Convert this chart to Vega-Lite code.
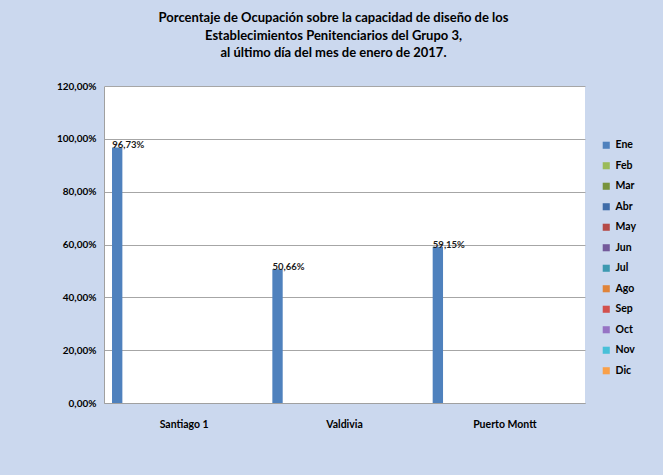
{
  "$schema": "https://vega.github.io/schema/vega-lite/v6.json",
  "autosize": "none",
  "width": 481,
  "height": 317,
  "padding": {"left": 104, "top": 86, "right": 78, "bottom": 72},
  "background": "#cbd8ee",
  "config": {
    "locale": {"number": {"decimal": ",", "thousands": ".", "grouping": [3], "currency": ["$", ""]}},
    "font": "Lato",
    "view": {"fill": "white", "stroke": null}
  },
  "title": {
    "text": ["Porcentaje de Ocupación  sobre la capacidad  de diseño de los", "Establecimientos Penitenciarios del Grupo 3,", "al último día del mes de  enero de 2017."],
    "fontSize": 13,
    "fontWeight": "bold",
    "color": "#000000",
    "lineHeight": 17.5,
    "anchor": "middle",
    "frame": "group",
    "dx": -11,
    "offset": 21
  },
  "data": {
    "values": [
      {"est": "Santiago 1", "mes": "Ene", "v": 0.9673},
      {"est": "Valdivia", "mes": "Ene", "v": 0.5066},
      {"est": "Puerto Montt", "mes": "Ene", "v": 0.5915}
    ]
  },
  "encoding": {
    "x": {
      "field": "est", "type": "nominal", "sort": ["Santiago 1", "Valdivia", "Puerto Montt"],
      "scale": {"paddingInner": 0.1, "paddingOuter": 0.05},
      "axis": {"title": null, "labelAngle": 0, "labelFontSize": 10.5, "labelFontWeight": "bold", "labelColor": "#000000", "labelPadding": 16, "ticks": false, "domainColor": "#a0a0a0"}
    },
    "xOffset": {
      "field": "mes", "type": "nominal",
      "scale": {"domain": ["Ene", "Feb", "Mar", "Abr", "May", "Jun", "Jul", "Ago", "Sep", "Oct", "Nov", "Dic"], "paddingInner": 0.15}
    },
    "y": {
      "field": "v", "type": "quantitative",
      "scale": {"domain": [0, 1.2], "nice": false},
      "axis": {"title": null, "format": ".2%", "values": [0, 0.2, 0.4, 0.6, 0.8, 1.0, 1.2], "labelFontSize": 10, "labelFontWeight": "bold", "labelColor": "#000000", "labelPadding": 8, "ticks": false, "gridColor": "#a6a6a6", "domainColor": "#a0a0a0"}
    }
  },
  "layer": [
    {
      "mark": {"type": "bar"},
      "encoding": {
        "color": {
          "field": "mes", "type": "nominal",
          "scale": {
            "domain": ["Ene", "Feb", "Mar", "Abr", "May", "Jun", "Jul", "Ago", "Sep", "Oct", "Nov", "Dic"],
            "range": ["#4f81bd", "#9bbb59", "#77933c", "#3f6ca8", "#b54a47", "#73599a", "#3d99b0", "#e0843a", "#d2504d", "#9673c4", "#48c0d8", "#f9a049"]
          },
          "legend": {
            "title": null, "orient": "none", "legendX": 497, "legendY": 54,
            "symbolType": "square", "symbolSize": 50, "symbolStrokeWidth": 0,
            "labelFontSize": 10.5, "labelFontWeight": "bold", "labelColor": "#000000",
            "rowPadding": 9.5, "labelOffset": 4
          }
        }
      }
    },
    {
      "mark": {"type": "text", "align": "left", "baseline": "bottom", "dx": -5, "dy": 3, "fontSize": 9.5, "fontWeight": "bold", "color": "#1a1a1a"},
      "encoding": {
        "text": {"field": "v", "type": "quantitative", "format": ".2%"}
      }
    }
  ]
}
